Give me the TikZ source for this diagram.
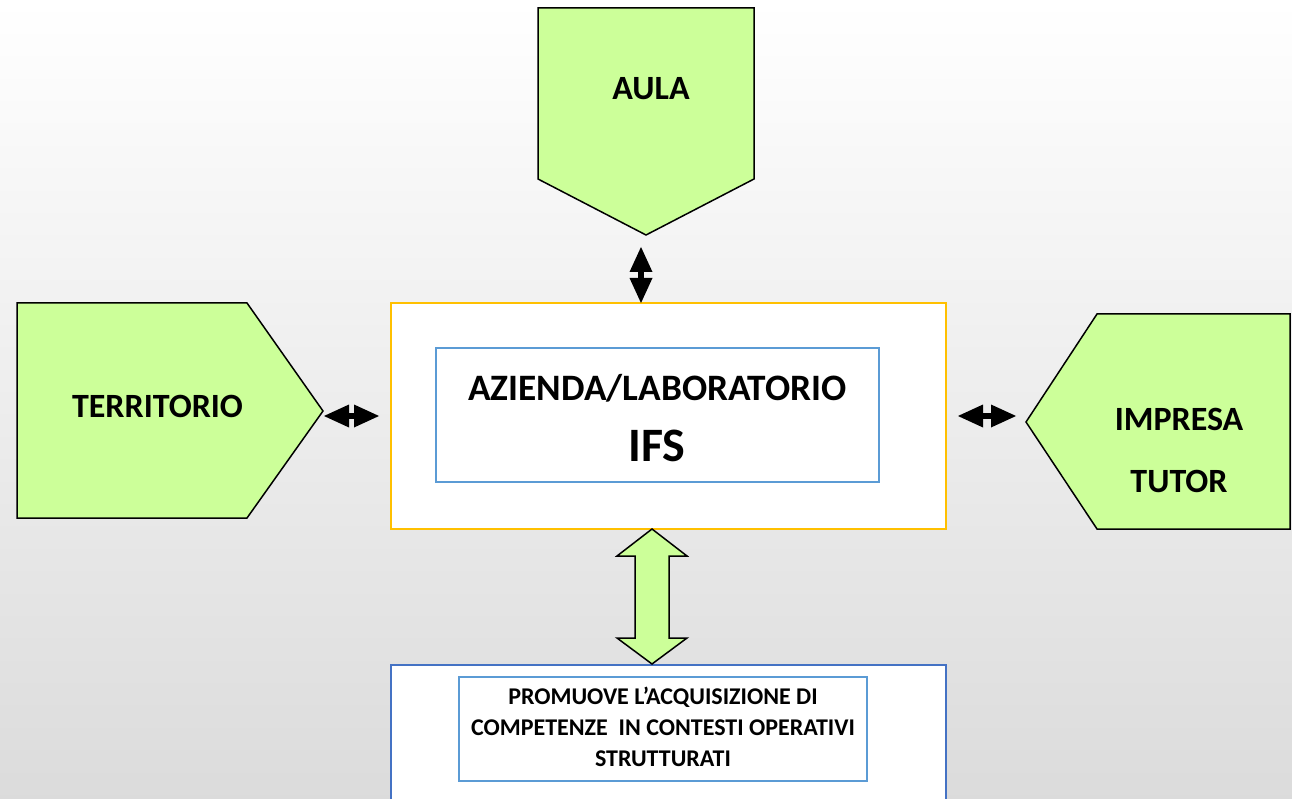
\documentclass[tikz,border=0pt]{standalone}
\usepackage{fontspec}
\setmainfont{Carlito}
\usetikzlibrary{arrows.meta}
\definecolor{lgreen}{HTML}{CCFF99}
\definecolor{ygold}{HTML}{FFC000}
\definecolor{lblue}{HTML}{5B9BD5}
\definecolor{dblue}{HTML}{4472C4}
\tikzset{
  pent/.style={draw=black, line width=1.5pt, fill=lgreen, line join=miter},
  lbl/.style={anchor=base, inner sep=0pt, font=\fontsize{34}{40}\selectfont\bfseries},
  boxnode/.style={line width=2.2pt, fill=white, inner sep=0pt},
  dbl/.style={line width=6pt, >={Triangle[length=25pt,width=23pt,line width=0pt]}, <->},
  bigarr/.style={draw=black, line width=1.5pt, fill=lgreen, line join=miter}
}
\begin{document}
\begin{tikzpicture}[x=1pt,y=-1pt]
\useasboundingbox (0,0) rectangle (1292,799);
\shade[top color=white, middle color=black!4, bottom color=black!14] (0,0) rectangle (1292,799);

% pentagons
\draw[pent] (538,8) -- (754,8) -- (754,179) -- (646,235) -- (538,179) -- cycle;
\draw[pent] (17,303) -- (247,303) -- (323,411) -- (247,518) -- (17,518) -- cycle;
\draw[pent] (1026,422) -- (1097,314) -- (1290,314) -- (1290,529) -- (1097,529) -- cycle;
\node[lbl] (aula) at (651,100) {AULA};
\node[lbl] (terr) at (157.5,417) {TERRITORIO};
\node[lbl] (impresa) at (1179,430) {IMPRESA};
\node[lbl] (tutor) at (1179,492) {TUTOR};

% main box
\node[boxnode, draw=ygold, minimum width=555pt, minimum height=226pt] (main) at (668.5,416) {};
\node[boxnode, draw=lblue, minimum width=443pt, minimum height=134pt] (inner) at (657.5,415) {};
\node[anchor=base, inner sep=0pt, font=\fontsize{37.3}{40}\selectfont\bfseries] (azienda) at (657.5,400) {AZIENDA/LABORATORIO};
\node[anchor=base, inner sep=0pt, font=\fontsize{48}{50}\selectfont\bfseries] (ifs) at (657,461) {IFS};

% bottom box
\node[boxnode, draw=dblue, minimum width=555pt, minimum height=165pt] (outb) at (668.5,747.5) {};
\node[boxnode, draw=lblue, minimum width=408pt, minimum height=104pt] (inb) at (663,729) {};
\node[align=center, inner sep=0pt, font=\fontsize{24}{31}\selectfont\bfseries] (promo) at (663,727) {PROMUOVE L’ACQUISIZIONE DI\\COMPETENZE\ \ IN CONTESTI OPERATIVI\\STRUTTURATI};

% small double arrows
\coordinate (v1) at (641,247);
\coordinate (v2) at (641,303);
\coordinate (l1) at (324,416);
\coordinate (l2) at (379,416);
\coordinate (r1) at (958,416);
\coordinate (r2) at (1016,416);
\draw[dbl] (v1) -- (v2);
\draw[dbl] (l1) -- (l2);
\draw[dbl] (r1) -- (r2);

% big green double arrow
\coordinate (b1) at (652,529);
\coordinate (b2) at (652,664);
\draw[bigarr] (b1) -- ++(35,27) -- ++(-18,0) -- ++(0,82) -- ++(18,0) -- (b2)
  -- ++(-35,-26) -- ++(18,0) -- ++(0,-82) -- ++(-18,0) -- cycle;
\end{tikzpicture}
\end{document}
